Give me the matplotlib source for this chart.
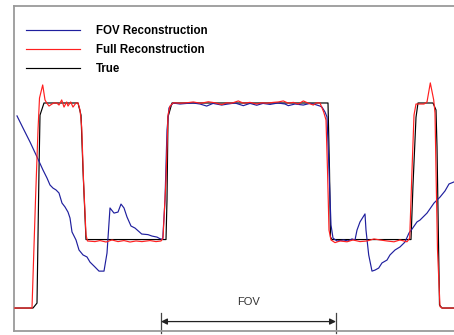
import matplotlib
matplotlib.use("Agg")
import matplotlib.pyplot as plt
from matplotlib.lines import Line2D

# ---------------- data (position along profile, intensity in % of max) ----------------
true_x = [0, 19, 23, 25, 26, 30, 64, 67, 69, 72, 152, 153, 154, 158, 314, 315.5, 316.5, 318,
          397, 399, 402, 404, 419, 422, 423, 425.5, 428, 440]
true_v = [0, 0, 2.4, 67.3, 94.1, 100, 100, 94.1, 67.3, 33.4, 33.4, 52.7, 93.2, 100, 100, 67.3, 34.6, 33.4,
          33.4, 60.0, 93.0, 100, 100, 96.6, 78.7, 1.5, 0, 0]

full_x = [0, 18, 21.5, 24, 25.5, 28.7, 31, 32.7, 35, 38, 40, 42.7, 45, 47.7, 50, 52.7, 54, 56.7, 59, 62,
          64, 66, 67.7, 69.5, 72, 73.5, 81, 86, 92, 98, 104, 110, 116, 122, 128, 136, 142, 147, 149,
          152, 154, 156, 159.3, 166, 172.7, 179.3, 186, 189.3, 194.3, 201, 207.7, 212.7, 217.7, 224.3,
          229.3, 236, 242.7, 247.7, 252.7, 259.3, 264.3, 269.3, 274.3, 279.3, 284.3, 289.3, 294.3,
          299.3, 302.7, 306, 309.7, 312, 313.5, 315, 317, 321, 326, 333, 339, 346, 353, 360, 366,
          373, 380, 386, 393, 395.7, 398, 400, 402, 406, 410, 413, 416.3, 419.7, 421, 422, 423.5,
          426, 428, 440]
full_v = [0, 0, 52.7, 86.8, 102.4, 108.8, 101.5, 100, 98.5, 99.5, 100, 100, 99, 101.5, 98, 100.5, 98.5,
          100.5, 98, 100, 100, 96.6, 88.3, 62.4, 35.6, 32.7, 32.4, 32.9, 32.2, 33.2, 32.4, 32.9, 32.2,
          32.7, 32.4, 32.9, 32.4, 32.7, 34.1, 62.4, 94.1, 98.5, 100.1, 99.9, 100.1, 100.5, 99.9, 100.1,
          100.6, 100.1, 99.2, 100.1, 99.9, 101.0, 99.9, 100.3, 99.5, 100.1, 99.9, 100.3, 100.5, 101.0,
          99.9, 100.3, 99.5, 101.0, 99.9, 99.0, 100.1, 100, 95.6, 91.7, 67.3, 38.0, 33.2, 31.9, 32.7,
          32.3, 33.2, 32.4, 32.7, 33.7, 33.2, 32.7, 32.3, 33.2, 32.3, 34.1, 67.3, 94.1, 99.5, 99.5,
          99.5, 100.5, 109.8, 101.5, 95.1, 67.3, 28.3, 0.7, 0, 0]

fov_x = [3, 9, 16, 23, 29, 33, 36, 39, 42, 45, 48, 51, 54, 56, 58, 62, 65, 69, 73, 76, 81, 85, 90, 93,
         96, 100, 104, 107, 110, 113, 117, 121, 127.7, 134, 138, 143, 146, 148.7, 151, 153, 155, 159,
         166, 173, 179, 186, 192.7, 199, 207.7, 214, 221, 229.3, 236, 242.7, 249, 256, 264, 271,
         274.3, 281, 289.3, 296, 301, 306, 308, 311, 313, 315, 317, 319, 323, 329.7, 334, 338, 341,
         343, 346, 351, 352, 354.7, 358, 361, 364.7, 368, 373, 376, 381, 386, 391, 395, 398, 403,
         406, 413, 420, 426, 431, 435, 440]
fov_v = [93.7, 87.8, 81.0, 73.7, 67.3, 63.4, 60.0, 58.5, 57.6, 56.1, 51.2, 49.3, 46.8, 43.9, 37.1, 33.2,
         28.3, 25.9, 24.9, 22.4, 20.0, 18.0, 18.0, 26.8, 48.8, 46.3, 46.8, 50.7, 48.8, 44.4, 40.0,
         39.0, 36.1, 35.8, 35.1, 34.6, 33.8, 33.5, 52.7, 86.8, 97.6, 100, 99.5, 99.8, 100, 99.5, 98.5,
         99.8, 99.0, 99.5, 100, 98.7, 99.8, 98.9, 99.8, 99.3, 100, 99.5, 98.7, 99.5, 99.0, 99.8, 99.3,
         98.5, 98.0, 95.6, 93.2, 67.3, 40.5, 34.1, 32.7, 33.2, 32.7, 33.7, 33.2, 38.0, 42.0, 45.9,
         38.0, 25.9, 18.0, 18.5, 19.5, 22.0, 23.4, 25.9, 28.3, 29.8, 32.2, 36.6, 38.5, 42.0, 42.9,
         46.3, 51.2, 54.1, 57.1, 60.5, 61.5]

fov_range = [147, 322]
labels = ["FOV Reconstruction", "Full Reconstruction", "True"]
colors = ["#1f1f9e", "#ff1f1f", "#000000"]

# ---------------- figure ----------------
fig = plt.figure(figsize=(4.54, 3.35), dpi=100)
ax = fig.add_axes([14 / 454, 4 / 335, 440 / 454, 325 / 335])

lw = 0.85
ax.plot(true_x, true_v, color=colors[2], lw=lw, zorder=2)
ax.plot(fov_x, fov_v, color=colors[0], lw=lw, zorder=3)
ax.plot(full_x, full_v, color=colors[1], lw=lw, zorder=4)

ax.set_xlim(0, 440)
ax.set_ylim(-11.2, 147.3)
ax.set_xticks([])
ax.set_yticks([])
for s in ["left", "top", "bottom"]:
    ax.spines[s].set_color("#9a9a9a")
    ax.spines[s].set_linewidth(1.3)
ax.spines["right"].set_visible(False)

handles = [Line2D([], [], color=c, lw=lw) for c in colors]
ax.legend(handles, labels, loc="upper left", bbox_to_anchor=(26 / 454, 1 - 25.5 / 335),
          bbox_transform=fig.transFigure, frameon=False, borderpad=0, borderaxespad=0,
          handlelength=4.7, handletextpad=1.4, labelspacing=0.57,
          prop=dict(family="Liberation Sans", weight="bold", size=8.3))

# FOV marker
y_arrow = -6.6
ax.annotate("", xy=(fov_range[1], y_arrow), xytext=(fov_range[0], y_arrow),
            arrowprops=dict(arrowstyle="<|-|>", color="#222222", lw=0.9, mutation_scale=9,
                            shrinkA=0, shrinkB=0), annotation_clip=False)
for xv in fov_range:
    ax.plot([xv, xv], [-2.4, -12.4], color="#444444", lw=0.9, clip_on=False)
ax.text(sum(fov_range) / 2, 2.9, "FOV", ha="center", va="center", fontsize=8,
        family="Liberation Sans", color="#333333")

fig.savefig("out.png", dpi=100)
